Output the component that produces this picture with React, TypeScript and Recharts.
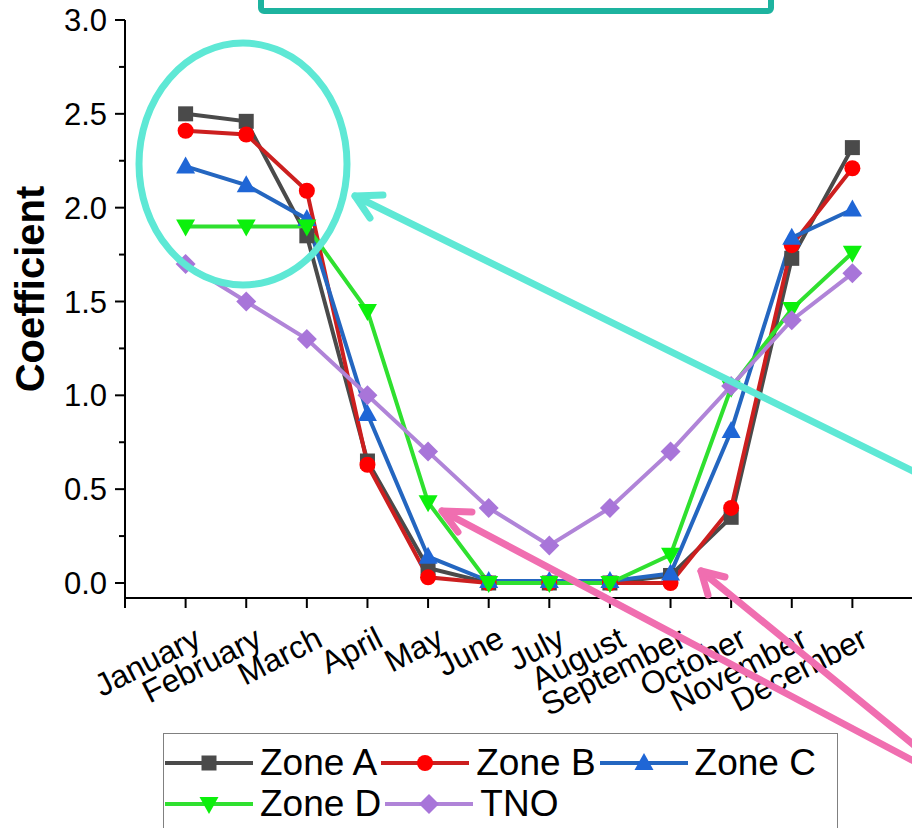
import React from 'react';
import { LineChart, Line, XAxis, YAxis, Legend } from 'recharts';

const months = [
  'January', 'February', 'March', 'April', 'May', 'June',
  'July', 'August', 'September', 'October', 'November', 'December',
];
const zoneA = [2.5, 2.46, 1.85, 0.65, 0.08, 0.0, 0.0, 0.0, 0.04, 0.35, 1.73, 2.32];
const zoneB = [2.41, 2.39, 2.09, 0.63, 0.03, 0.0, 0.0, 0.0, 0.0, 0.4, 1.8, 2.21];
const zoneC = [2.22, 2.12, 1.94, 0.9, 0.14, 0.01, 0.01, 0.01, 0.05, 0.81, 1.84, 1.99];
const zoneD = [1.9, 1.9, 1.9, 1.45, 0.43, 0.0, 0.0, 0.0, 0.15, 1.04, 1.46, 1.76];
const tno = [1.7, 1.5, 1.3, 1.0, 0.7, 0.4, 0.2, 0.4, 0.7, 1.05, 1.4, 1.65];

const xTicks = [0, 1, 2, 3, 4, 5, 6, 7, 8, 9, 10, 11, 12, 13];
const yTicks = [0, 0.25, 0.5, 0.75, 1, 1.25, 1.5, 1.75, 2, 2.25, 2.5, 2.75, 3];

const data = months.map((m, i) => ({
  x: i + 1,
  month: m,
  zoneA: zoneA[i],
  zoneB: zoneB[i],
  zoneC: zoneC[i],
  zoneD: zoneD[i],
  tno: tno[i],
}));

const series = [
  { key: 'zoneA', name: 'Zone A', color: '#4a4a4a', fill: '#4a4a4a', shape: 'square' },
  { key: 'zoneB', name: 'Zone B', color: '#cc1f1f', fill: '#ff0000', shape: 'circle' },
  { key: 'zoneC', name: 'Zone C', color: '#2466c0', fill: '#1f66d6', shape: 'triangle' },
  { key: 'zoneD', name: 'Zone D', color: '#2fe02f', fill: '#0cf00c', shape: 'triangleDown' },
  { key: 'tno', name: 'TNO', color: '#b084d8', fill: '#a875d9', shape: 'diamond' },
];

const FONT = "'Liberation Sans', Arial, sans-serif";

const Marker = ({ cx, cy, shape, fill }: any) => {
  if (cx == null || cy == null) return null;
  switch (shape) {
    case 'square':
      return <rect x={cx - 7.5} y={cy - 7.5} width={15} height={15} fill={fill} />;
    case 'circle':
      return <circle cx={cx} cy={cy} r={8} fill={fill} />;
    case 'triangle':
      return <polygon points={`${cx},${cy - 10} ${cx + 9.5},${cy + 7} ${cx - 9.5},${cy + 7}`} fill={fill} />;
    case 'triangleDown':
      return <polygon points={`${cx},${cy + 10} ${cx + 9.5},${cy - 7} ${cx - 9.5},${cy - 7}`} fill={fill} />;
    default:
      return <polygon points={`${cx},${cy - 10} ${cx + 10},${cy} ${cx},${cy + 10} ${cx - 10},${cy}`} fill={fill} />;
  }
};

const XTick = ({ x, y, payload }: any) => {
  const label = months[payload.value - 1];
  if (!label) return <g />;
  return (
    <g transform={`translate(${x + 7},${y + 15}) rotate(-27)`}>
      <text x={0} y={0} dy="0.72em" textAnchor="end" fontSize={32} fontFamily={FONT} fill="#000">
        {label}
      </text>
    </g>
  );
};

// tickSize 10 + tickMargin 8 -> axis line sits at x + 18
const YTick = ({ x, y, payload }: any) => {
  const v = payload.value;
  const major = Math.abs(v * 2 - Math.round(v * 2)) < 1e-6;
  const ax = x + 18;
  return (
    <g>
      <line x1={ax - (major ? 10 : 6)} x2={ax} y1={y} y2={y} stroke="#000" strokeWidth={2} />
      {major && (
        <text x={x} y={y} dy="0.36em" textAnchor="end" fontSize={31} fontFamily={FONT} fill="#000">
          {v.toFixed(1)}
        </text>
      )}
    </g>
  );
};

const LegendItem = ({ s }: any) => (
  <span style={{ display: 'inline-flex', alignItems: 'center', marginRight: 4 }}>
    <svg width={88} height={30}>
      <line x1={0} x2={88} y1={15} y2={15} stroke={s.color} strokeWidth={4} />
      <Marker cx={44} cy={15} shape={s.shape} fill={s.fill} />
    </svg>
    <span style={{ marginLeft: 7 }}>{s.name}</span>
  </span>
);

const LegendBox = () => (
  <div
    style={{
      width: 675,
      height: 110,
      boxSizing: 'border-box',
      border: '1.5px solid #808080',
      background: '#fff',
      padding: '8px 0 0 1px',
      fontFamily: FONT,
      fontSize: 37,
      lineHeight: '41px',
      color: '#000',
      whiteSpace: 'nowrap',
    }}
  >
    <div style={{ display: 'flex', alignItems: 'center', height: 41 }}>
      {series.slice(0, 3).map((s) => <LegendItem key={s.key} s={s} />)}
    </div>
    <div style={{ display: 'flex', alignItems: 'center', height: 41 }}>
      {series.slice(3).map((s) => <LegendItem key={s.key} s={s} />)}
    </div>
  </div>
);

const teal = '#5ee8d5';
const pink = '#f06eb0';

export default function App() {
  return (
    <div style={{ position: 'relative', width: 912, height: 828, overflow: 'hidden', background: '#fff' }}>
      <style>{'body{margin:0}'}</style>
      <LineChart width={914} height={828} data={data} margin={{ top: 20, right: 1, left: 0, bottom: 0 }}>
        <XAxis
          dataKey="x"
          type="number"
          domain={[0, 13]}
          ticks={xTicks}
          interval={0}
          height={230}
          tickSize={10}
          tickMargin={2}
          axisLine={{ stroke: '#000', strokeWidth: 2 }}
          tickLine={{ stroke: '#000', strokeWidth: 2 }}
          tick={<XTick />}
        />
        <YAxis
          type="number"
          domain={[-0.08, 3]}
          ticks={yTicks}
          interval={0}
          width={125}
          tickSize={10}
          tickMargin={8}
          axisLine={{ stroke: '#000', strokeWidth: 2 }}
          tickLine={false}
          tick={<YTick />}
          label={{
            content: () => (
              <text
                x={30}
                y={289}
                transform="rotate(-90 30 289)"
                textAnchor="middle"
                dy="0.36em"
                fontSize={40}
                fontWeight="bold"
                fontFamily={FONT}
                fill="#000"
              >
                Coefficient
              </text>
            ),
          }}
        />
        {series.map((s) => (
          <Line
            key={s.key}
            dataKey={s.key}
            name={s.name}
            stroke={s.color}
            strokeWidth={4}
            isAnimationActive={false}
            dot={(p: any) => <Marker key={`${s.key}-${p.index}`} cx={p.cx} cy={p.cy} shape={s.shape} fill={s.fill} />}
            activeDot={false}
          />
        ))}
        <Legend
          layout="horizontal"
          verticalAlign="middle"
          align="center"
          wrapperStyle={{ left: 163, top: 733, width: 675, height: 110 }}
          content={() => <LegendBox />}
        />
      </LineChart>
      <svg
        width={912}
        height={828}
        style={{ position: 'absolute', left: 0, top: 0, pointerEvents: 'none' }}
      >
        <rect x={261} y={-20} width={510} height={31} rx={3} fill="none" stroke="#1db39f" strokeWidth={6} />
        <ellipse cx={243} cy={164} rx={104} ry={121} fill="none" stroke={teal} strokeWidth={7} />
        <g stroke={teal} strokeWidth={7} strokeLinecap="round" fill="none">
          <line x1={925} x2={355} y1={477} y2={196} />
          <polyline points="383,195 355,196 370,218" strokeLinejoin="round" />
        </g>
        <g stroke={pink} strokeWidth={7} strokeLinecap="round" fill="none">
          <line x1={925} x2={442} y1={767} y2={511} />
          <polyline points="472,512 442,511 458,532" strokeLinejoin="round" />
          <line x1={925} x2={701} y1={754} y2={571} />
          <polyline points="725,577 701,571 708,595" strokeLinejoin="round" />
        </g>
      </svg>
    </div>
  );
}
